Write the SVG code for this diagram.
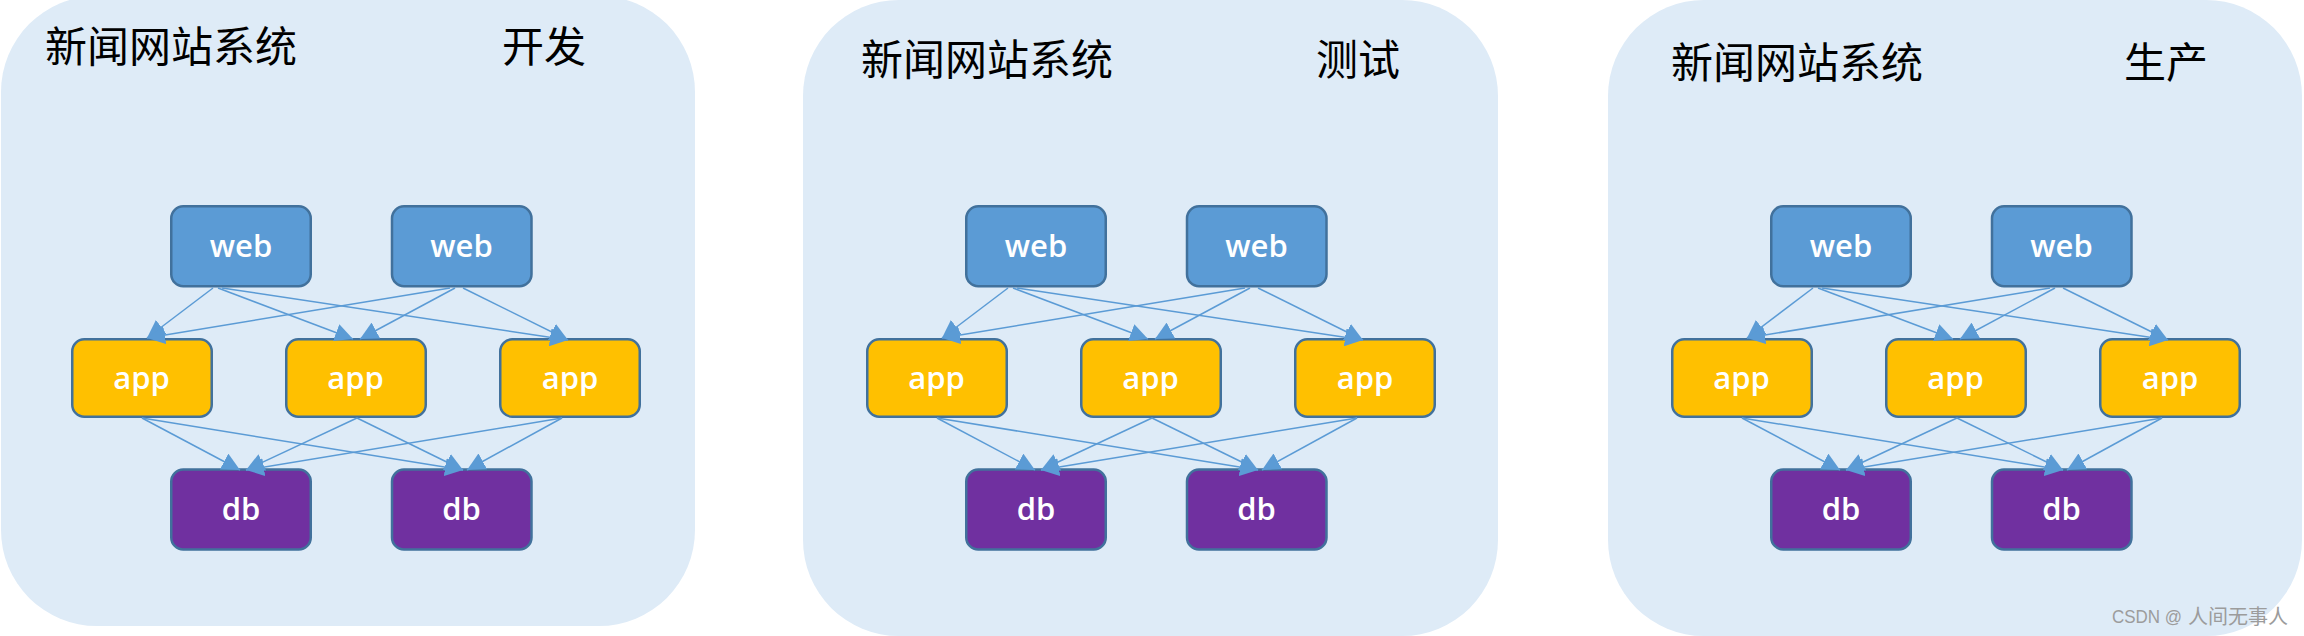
<svg xmlns="http://www.w3.org/2000/svg" width="2304" height="636" viewBox="0 0 2304 636">
<defs>
<style>
.panel{fill:#DEEBF7;}
.title{font-family:"Noto Sans CJK SC","Noto Sans",sans-serif;font-size:42px;fill:#000;}
.box{stroke:#41719C;stroke-width:2.5;}
.web{fill:#5B9BD5;}
.app{fill:#FFC000;}
.db{fill:#7030A0;}
.lbl{font-family:"Open Sans","Liberation Sans",sans-serif;font-size:31px;font-weight:600;fill:#fff;text-anchor:middle;}
.conn line{stroke:#5B9BD5;stroke-width:1.5;fill:none;marker-end:url(#arr);}
.wm{font-family:"Liberation Sans","Noto Sans CJK SC",sans-serif;fill:#9c9c9c;}
</style>
<marker id="arr" markerUnits="userSpaceOnUse" viewBox="0 0 18 18" refX="18" refY="9" markerWidth="18" markerHeight="18" orient="auto">
<path d="M0,0 L18,9 L0,18 z" fill="#5B9BD5"/>
</marker>
</defs>

<rect class="panel" x="1" y="-4" width="694" height="630" rx="96" ry="96"/>
<rect class="panel" x="803" y="0" width="695" height="636" rx="96" ry="96"/>
<rect class="panel" x="1608" y="0" width="694" height="636" rx="96" ry="96"/>

<text class="title" x="45" y="62">新闻网站系统</text>
<text class="title" x="502" y="62">开发</text>
<text class="title" x="861" y="75">新闻网站系统</text>
<text class="title" x="1316" y="75">测试</text>
<text class="title" x="1671" y="78">新闻网站系统</text>
<text class="title" x="2124" y="78">生产</text>

<!-- Panel 1 -->
<g id="p1" transform="translate(0,0)">
<g id="p1-web1"><rect class="box web" x="171.25" y="206.25" width="139.5" height="80" rx="12"/><text class="lbl" x="241" y="257">web</text></g>
<g id="p1-web2"><rect class="box web" x="392" y="206.25" width="139.5" height="80" rx="12"/><text class="lbl" x="461.5" y="257">web</text></g>
<g id="p1-app1"><rect class="box app" x="72.25" y="339.25" width="139.5" height="77.5" rx="12"/><text class="lbl" x="141.5" y="389">app</text></g>
<g id="p1-app2"><rect class="box app" x="286.25" y="339.25" width="139.5" height="77.5" rx="12"/><text class="lbl" x="355.5" y="389">app</text></g>
<g id="p1-app3"><rect class="box app" x="500.25" y="339.25" width="139.5" height="77.5" rx="12"/><text class="lbl" x="570" y="389">app</text></g>
<g id="p1-db1"><rect class="box db" x="171.25" y="469.5" width="139.5" height="80" rx="12"/><text class="lbl" x="241" y="520">db</text></g>
<g id="p1-db2"><rect class="box db" x="392" y="469.5" width="139.5" height="80" rx="12"/><text class="lbl" x="461.5" y="520">db</text></g>
<g id="p1-connectors" class="conn">
<line x1="213" y1="288" x2="147" y2="338"/>
<line x1="450" y1="288" x2="147" y2="338"/>
<line x1="218" y1="288" x2="353" y2="339"/>
<line x1="455" y1="288" x2="360" y2="339"/>
<line x1="222" y1="288" x2="568" y2="340"/>
<line x1="463" y1="288" x2="568" y2="340"/>
<line x1="142" y1="418" x2="240" y2="470"/>
<line x1="357" y1="418" x2="246" y2="470"/>
<line x1="562" y1="418" x2="246" y2="470"/>
<line x1="142" y1="418" x2="463" y2="470"/>
<line x1="357" y1="418" x2="463" y2="470"/>
<line x1="562" y1="418" x2="467" y2="470"/>
</g>
</g>

<!-- Panel 2 -->
<g id="p2" transform="translate(795,0)">
<g id="p2-web1"><rect class="box web" x="171.25" y="206.25" width="139.5" height="80" rx="12"/><text class="lbl" x="241" y="257">web</text></g>
<g id="p2-web2"><rect class="box web" x="392" y="206.25" width="139.5" height="80" rx="12"/><text class="lbl" x="461.5" y="257">web</text></g>
<g id="p2-app1"><rect class="box app" x="72.25" y="339.25" width="139.5" height="77.5" rx="12"/><text class="lbl" x="141.5" y="389">app</text></g>
<g id="p2-app2"><rect class="box app" x="286.25" y="339.25" width="139.5" height="77.5" rx="12"/><text class="lbl" x="355.5" y="389">app</text></g>
<g id="p2-app3"><rect class="box app" x="500.25" y="339.25" width="139.5" height="77.5" rx="12"/><text class="lbl" x="570" y="389">app</text></g>
<g id="p2-db1"><rect class="box db" x="171.25" y="469.5" width="139.5" height="80" rx="12"/><text class="lbl" x="241" y="520">db</text></g>
<g id="p2-db2"><rect class="box db" x="392" y="469.5" width="139.5" height="80" rx="12"/><text class="lbl" x="461.5" y="520">db</text></g>
<g id="p2-connectors" class="conn">
<line x1="213" y1="288" x2="147" y2="338"/>
<line x1="450" y1="288" x2="147" y2="338"/>
<line x1="218" y1="288" x2="353" y2="339"/>
<line x1="455" y1="288" x2="360" y2="339"/>
<line x1="222" y1="288" x2="568" y2="340"/>
<line x1="463" y1="288" x2="568" y2="340"/>
<line x1="142" y1="418" x2="240" y2="470"/>
<line x1="357" y1="418" x2="246" y2="470"/>
<line x1="562" y1="418" x2="246" y2="470"/>
<line x1="142" y1="418" x2="463" y2="470"/>
<line x1="357" y1="418" x2="463" y2="470"/>
<line x1="562" y1="418" x2="467" y2="470"/>
</g>
</g>

<!-- Panel 3 -->
<g id="p3" transform="translate(1600,0)">
<g id="p3-web1"><rect class="box web" x="171.25" y="206.25" width="139.5" height="80" rx="12"/><text class="lbl" x="241" y="257">web</text></g>
<g id="p3-web2"><rect class="box web" x="392" y="206.25" width="139.5" height="80" rx="12"/><text class="lbl" x="461.5" y="257">web</text></g>
<g id="p3-app1"><rect class="box app" x="72.25" y="339.25" width="139.5" height="77.5" rx="12"/><text class="lbl" x="141.5" y="389">app</text></g>
<g id="p3-app2"><rect class="box app" x="286.25" y="339.25" width="139.5" height="77.5" rx="12"/><text class="lbl" x="355.5" y="389">app</text></g>
<g id="p3-app3"><rect class="box app" x="500.25" y="339.25" width="139.5" height="77.5" rx="12"/><text class="lbl" x="570" y="389">app</text></g>
<g id="p3-db1"><rect class="box db" x="171.25" y="469.5" width="139.5" height="80" rx="12"/><text class="lbl" x="241" y="520">db</text></g>
<g id="p3-db2"><rect class="box db" x="392" y="469.5" width="139.5" height="80" rx="12"/><text class="lbl" x="461.5" y="520">db</text></g>
<g id="p3-connectors" class="conn">
<line x1="213" y1="288" x2="147" y2="338"/>
<line x1="450" y1="288" x2="147" y2="338"/>
<line x1="218" y1="288" x2="353" y2="339"/>
<line x1="455" y1="288" x2="360" y2="339"/>
<line x1="222" y1="288" x2="568" y2="340"/>
<line x1="463" y1="288" x2="568" y2="340"/>
<line x1="142" y1="418" x2="240" y2="470"/>
<line x1="357" y1="418" x2="246" y2="470"/>
<line x1="562" y1="418" x2="246" y2="470"/>
<line x1="142" y1="418" x2="463" y2="470"/>
<line x1="357" y1="418" x2="463" y2="470"/>
<line x1="562" y1="418" x2="467" y2="470"/>
</g>
</g>

<text class="wm" x="2112" y="623" font-size="18" textLength="70" lengthAdjust="spacingAndGlyphs">CSDN @</text>
<text class="wm" x="2188" y="624" font-size="20">人间无事人</text>
</svg>
